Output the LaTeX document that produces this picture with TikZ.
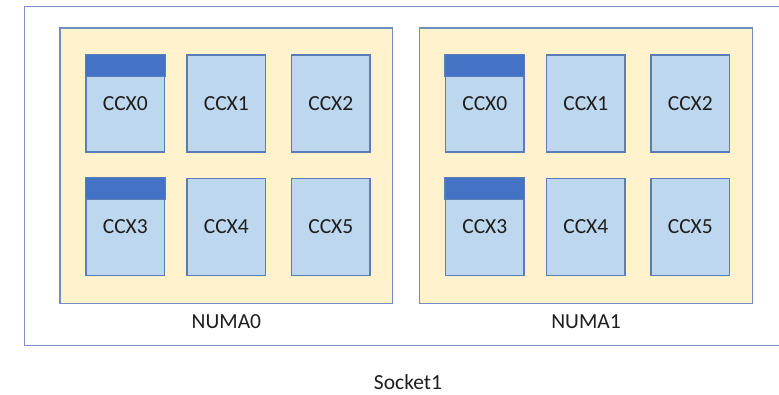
\documentclass[tikz,border=0pt]{standalone}
\usepackage{fontspec}
\setmainfont{Carlito}
\definecolor{frameline}{HTML}{7A93C2}
\definecolor{numafill}{HTML}{FFF2CC}
\definecolor{numaline}{HTML}{6F8DC0}
\definecolor{ccxfill}{HTML}{BDD7EE}
\definecolor{ccxline}{HTML}{5B7DB5}
\definecolor{ccxhead}{HTML}{4472C4}
\definecolor{txt}{HTML}{1E1E1E}
\begin{document}
\begin{tikzpicture}[x=1pt,y=-1pt,
  numabox/.style={draw=numaline, fill=numafill, line width=1.3pt, minimum width=332.7pt, minimum height=275.3pt, inner sep=0pt},
  ccxbox/.style={draw=ccxline, fill=ccxfill, line width=1.3pt, minimum width=78.5pt, minimum height=97pt, inner sep=0pt, text=txt, font=\fontsize{21.5}{24}\selectfont},
  lbl/.style={text=txt, inner sep=0pt, font=\fontsize{21.5}{24}\selectfont},
  headbar/.style={draw=ccxline, fill=ccxhead, line width=1.3pt}
]
\useasboundingbox (0,0) rectangle (779,395);
% socket frame (its right side lies beyond the picture)
\coordinate (s1) at (779,6.3);
\coordinate (s2) at (24.3,6.3);
\coordinate (s3) at (24.3,345.7);
\coordinate (s4) at (779,345.7);
\draw[frameline, line width=1.3pt] (s1) -- (s2) -- (s3) -- (s4);
% NUMA boxes
\node[numabox] (numa0) at (226.4,165.7) {};
\node[numabox] (numa1) at (585.9,165.7) {};
% CCX boxes
\foreach \n/\dx in {0/0, 1/359.5}{
  \node[ccxbox] (n\n c0) at (125.3+\dx,103.5) {CCX0};
  \node[ccxbox] (n\n c1) at (226.3+\dx,103.5) {CCX1};
  \node[ccxbox] (n\n c2) at (330.8+\dx,103.5) {CCX2};
  \node[ccxbox] (n\n c3) at (125.3+\dx,226.8) {CCX3};
  \node[ccxbox] (n\n c4) at (226.3+\dx,226.8) {CCX4};
  \node[ccxbox] (n\n c5) at (330.8+\dx,226.8) {CCX5};
  \draw[headbar] (n\n c0.north west) rectangle ([yshift=-22pt]n\n c0.north east);
  \draw[headbar] (n\n c3.north west) rectangle ([yshift=-22pt]n\n c3.north east);
}
% labels
\node[lbl] (l0) at (226.4,321.5) {NUMA0};
\node[lbl] (l1) at (586,321.5) {NUMA1};
\node[lbl, anchor=base] (ls) at (408,389.5) {Socket1};
\end{tikzpicture}
\end{document}
